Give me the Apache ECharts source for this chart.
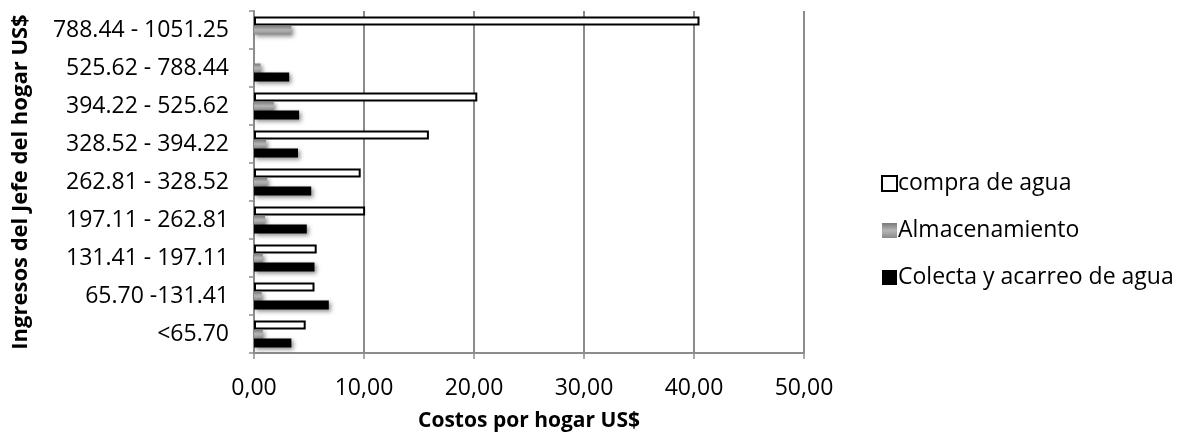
<!DOCTYPE html>
<html>
<head>
<meta charset="utf-8">
<script src="https://cdn.jsdelivr.net/npm/echarts@6/dist/echarts.min.js"></script>
<style>
  html, body { margin: 0; padding: 0; background: #fff; }
  #chart { width: 1186px; height: 443px; }
</style>
</head>
<body>
<div id="chart"></div>
<script>
// categorias (de abajo hacia arriba)
var categorias = ['<65.70', '65.70 -131.41', '131.41 - 197.11', '197.11 - 262.81', '262.81 - 328.52',
    '328.52 - 394.22', '394.22 - 525.62', '525.62 - 788.44', '788.44 - 1051.25'];
// null = sin barra
var compraAgua = [4.7, 5.5, 5.7, 10.1, 9.7, 15.9, 20.3, null, 40.5];
var almacenamiento = [0.8, 0.7, 0.8, 1.0, 1.2, 1.1, 1.8, 0.6, 3.4];
var colecta = [3.4, 6.8, 5.5, 4.8, 5.2, 4.0, 4.1, 3.2, null];
var ticksX = [0, 10, 20, 30, 40, 50];

var myChart = echarts.init(document.getElementById('chart'));

var fuente = 'Open Sans';
var sombra = {
    shadowColor: 'rgba(0,0,0,0.45)',
    shadowBlur: 4,
    shadowOffsetX: 2,
    shadowOffsetY: 2
};

var option = {
    animation: false,
    textStyle: { fontFamily: fuente },
    grid: {
        left: 254,
        right: 382,
        top: 11,
        bottom: 90
    },
    legend: {
        data: ['compra de agua', 'Almacenamiento', 'Colecta y acarreo de agua'],
        orient: 'vertical',
        left: 876,
        top: 167,
        itemGap: 24,
        itemWidth: 15,
        itemHeight: 15,
        icon: 'rect',
        textStyle: { fontSize: 23, color: '#000', fontFamily: fuente, padding: [0, 0, 0, -4] }
    },
    xAxis: {
        type: 'value',
        min: ticksX[0],
        max: ticksX[ticksX.length - 1],
        interval: 10,
        name: 'Costos por hogar US$',
        nameLocation: 'middle',
        nameGap: 58,
        nameTextStyle: { fontSize: 21, fontWeight: 'bold', color: '#000' },
        axisLine: { show: true, lineStyle: { color: '#8c8c8c', width: 2 } },
        axisTick: { show: true, length: 6, lineStyle: { color: '#8c8c8c', width: 1.5 } },
        axisLabel: {
            fontSize: 23,
            color: '#000',
            margin: 24,
            formatter: function (v) { return v.toFixed(2).replace('.', ','); }
        },
        splitLine: { show: true, lineStyle: { color: '#8c8c8c', width: 2 } }
    },
    yAxis: {
        type: 'category',
        data: categorias,
        name: 'Ingresos del Jefe del hogar US$',
        nameLocation: 'middle',
        nameGap: 222,
        nameRotate: 90,
        nameTextStyle: { fontSize: 22, fontWeight: 'bold', color: '#000' },
        axisLine: { show: true, lineStyle: { color: '#8c8c8c', width: 2 } },
        axisTick: { show: true, length: 5, lineStyle: { color: '#8c8c8c', width: 1.5 } },
        axisLabel: { fontSize: 23, color: '#000', margin: 25 }
    },
    series: [{
        name: 'compra de agua',
        type: 'bar',
        data: compraAgua,
        barWidth: 9,
        barGap: '0%',
        // sin sombra: la sombra del borde manchaba el interior blanco
        itemStyle: { color: '#fff', borderColor: '#000', borderWidth: 2 }
    }, {
        name: 'Almacenamiento',
        type: 'bar',
        data: almacenamiento,
        barWidth: 9,
        barGap: '0%',
        itemStyle: Object.assign({
            color: new echarts.graphic.LinearGradient(0, 0, 0, 1, [
                { offset: 0, color: '#7a7a7a' },
                { offset: 0.5, color: '#b5b5b5' },
                { offset: 1, color: '#8a8a8a' }
            ])
        }, sombra)
    }, {
        name: 'Colecta y acarreo de agua',
        type: 'bar',
        data: colecta,
        barWidth: 9,
        barGap: '0%',
        itemStyle: Object.assign({ color: '#000' }, sombra)
    }]
};

myChart.setOption(option);
</script>
</body>
</html>
